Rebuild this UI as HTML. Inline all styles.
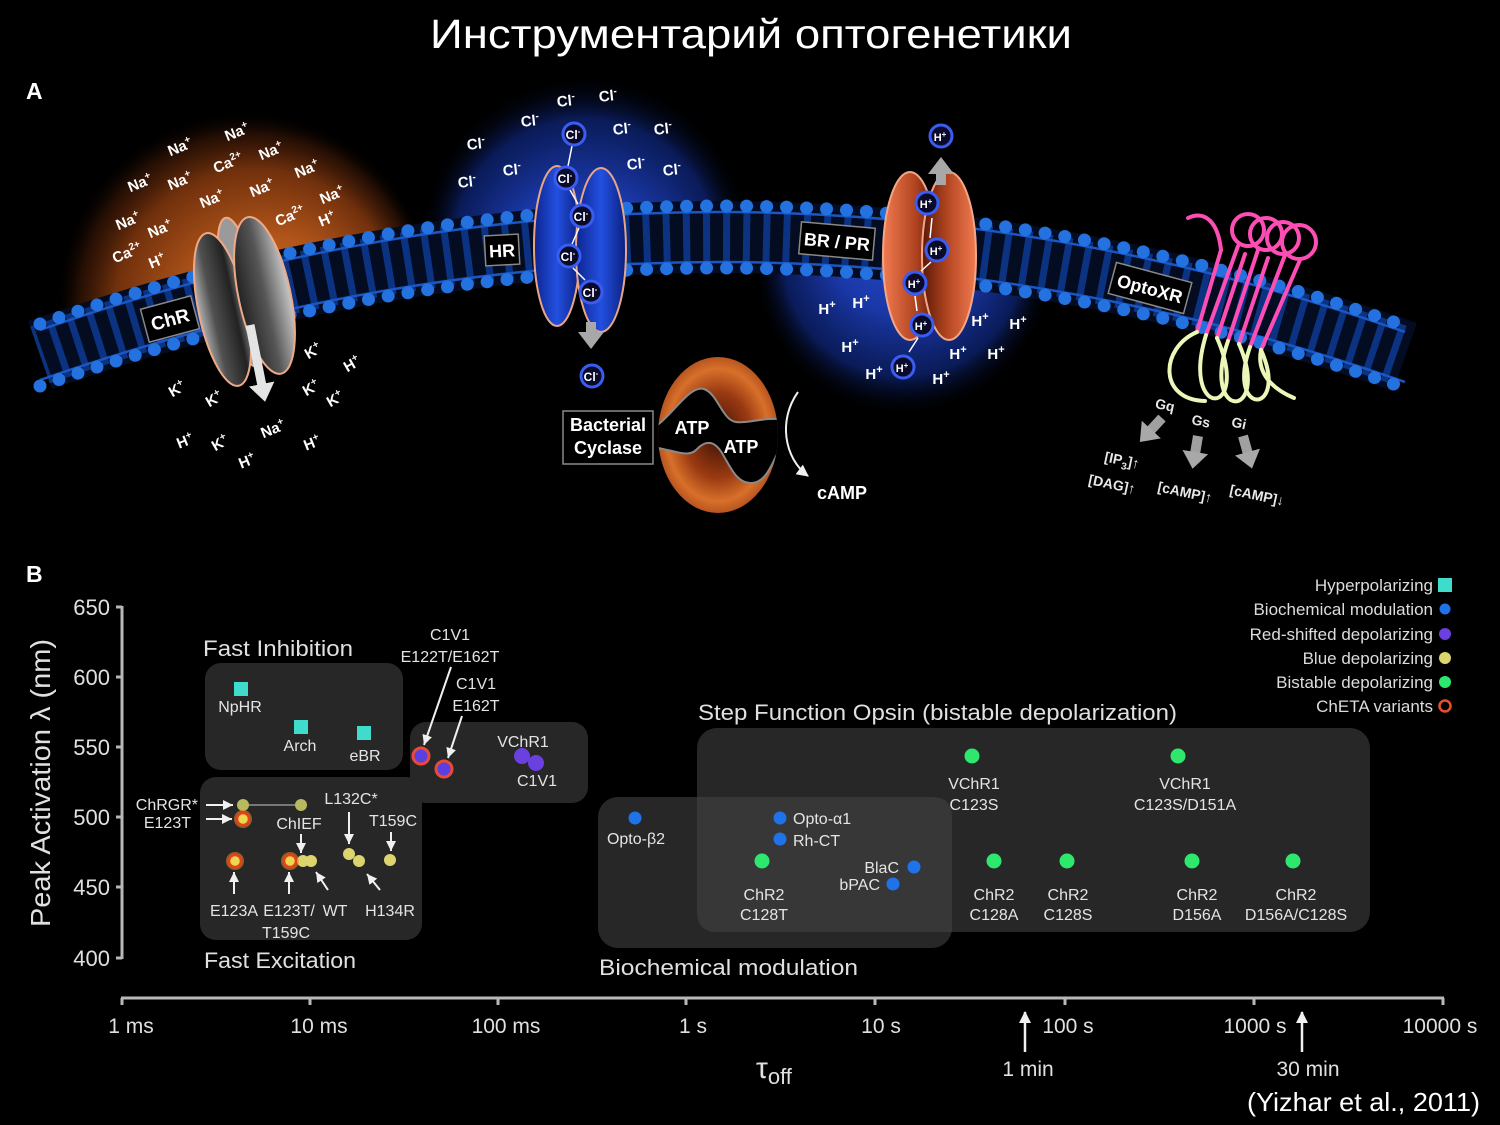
<!DOCTYPE html>
<html><head><meta charset="utf-8"><style>
html,body{margin:0;padding:0;background:#000;}
svg{display:block;}
</style></head><body>
<svg width="1500" height="1125" viewBox="0 0 1500 1125" xmlns="http://www.w3.org/2000/svg" font-family="'Liberation Sans', sans-serif">
<defs>
<radialGradient id="gOG" cx="0.5" cy="0.5" r="0.5" fx="0.62" fy="0.62">
<stop offset="0" stop-color="#e07522"/><stop offset="0.45" stop-color="#b4561a"/><stop offset="0.75" stop-color="#70300c"/><stop offset="0.9" stop-color="#2e1205" stop-opacity="0.8"/><stop offset="1" stop-color="#000" stop-opacity="0"/></radialGradient>
<radialGradient id="gBG" cx="0.5" cy="0.5" r="0.5" fx="0.5" fy="0.7">
<stop offset="0" stop-color="#2a4ed0"/><stop offset="0.5" stop-color="#1a38a8"/><stop offset="0.8" stop-color="#0c2068" stop-opacity="0.85"/><stop offset="1" stop-color="#000" stop-opacity="0"/></radialGradient>
<radialGradient id="gBG2" cx="0.5" cy="0.5" r="0.5" fx="0.5" fy="0.3">
<stop offset="0" stop-color="#2a4ed0"/><stop offset="0.5" stop-color="#1a38a8"/><stop offset="0.8" stop-color="#0c2068" stop-opacity="0.85"/><stop offset="1" stop-color="#000" stop-opacity="0"/></radialGradient>
<clipPath id="above"><path d="M0,0 H1500 V357 L1405,357 Q722,118 40,355 L0,355 Z"/></clipPath>
<clipPath id="below"><path d="M0,1125 H1500 V357 L1405,357 Q722,118 40,355 L0,355 Z"/></clipPath>
<linearGradient id="gGray" x1="0" x2="1" y1="0" y2="0">
<stop offset="0" stop-color="#b0b0b0"/><stop offset="0.3" stop-color="#505050"/><stop offset="0.75" stop-color="#222"/><stop offset="1" stop-color="#8a8a8a"/></linearGradient>
<linearGradient id="gGray2" x1="0" x2="1" y1="0" y2="0">
<stop offset="0" stop-color="#222"/><stop offset="0.5" stop-color="#555"/><stop offset="1" stop-color="#c8c8c8"/></linearGradient>
<linearGradient id="gBlue" x1="0" x2="1" y1="0" y2="0">
<stop offset="0" stop-color="#0d2490"/><stop offset="0.5" stop-color="#2350e0"/><stop offset="1" stop-color="#0b1f80"/></linearGradient>
<linearGradient id="gOrL" x1="0" x2="1" y1="0" y2="0">
<stop offset="0" stop-color="#f27a50"/><stop offset="0.6" stop-color="#b04420"/><stop offset="1" stop-color="#5a1806"/></linearGradient>
<linearGradient id="gOrR" x1="0" x2="1" y1="0" y2="0">
<stop offset="0" stop-color="#5a1806"/><stop offset="0.45" stop-color="#b04420"/><stop offset="1" stop-color="#f27a50"/></linearGradient>
<radialGradient id="gCyc" cx="0.5" cy="0.5" r="0.5">
<stop offset="0" stop-color="#3a1004"/><stop offset="0.55" stop-color="#9a3a12"/><stop offset="0.85" stop-color="#d8702a"/><stop offset="1" stop-color="#b85520"/></radialGradient>
<clipPath id="cyc"><ellipse cx="718" cy="435" rx="60" ry="78"/></clipPath>
<marker id="mW" markerWidth="30" markerHeight="30" refX="2" refY="15" orient="auto" markerUnits="userSpaceOnUse"><path d="M0,2 L18,15 L0,28 Z" fill="#e4e4e4"/></marker>
<marker id="mG" markerWidth="30" markerHeight="30" refX="2" refY="15" orient="auto" markerUnits="userSpaceOnUse"><path d="M0,2 L17,15 L0,28 Z" fill="#a8a8a8"/></marker>
<marker id="mS" markerWidth="12" markerHeight="12" refX="10" refY="5" orient="auto" markerUnits="userSpaceOnUse"><path d="M0,0 L10,5 L0,10 Z" fill="#f0f0f0"/></marker>
<marker id="mC" markerWidth="14" markerHeight="14" refX="11" refY="6" orient="auto" markerUnits="userSpaceOnUse"><path d="M0,0 L12,6 L0,12 Z" fill="#f0f0f0"/></marker>
</defs>
<rect width="1500" height="1125" fill="#000"/>

<!-- Title -->
<text x="430" y="48" font-size="41" fill="#fff" textLength="642" lengthAdjust="spacingAndGlyphs" font-family="'Liberation Sans','DejaVu Sans',sans-serif">Инструментарий оптогенетики</text>
<text x="26" y="99" font-size="23" font-weight="bold" fill="#fff">A</text>
<text x="26" y="582" font-size="23" font-weight="bold" fill="#fff">B</text>

<!-- glows -->
<circle cx="245" cy="300" r="190" fill="url(#gOG)" clip-path="url(#above)"/>
<circle cx="585" cy="238" r="165" fill="url(#gBG)" clip-path="url(#above)"/>
<circle cx="903" cy="268" r="150" fill="url(#gBG2)" clip-path="url(#below)"/>

<!-- membrane -->
<path d="M40,355 Q722,118 1405,357" fill="none" stroke="#040c22" stroke-width="72"/>
<path d="M40,355 Q722,118 1405,357" fill="none" stroke="#0d3b92" stroke-width="60" stroke-dasharray="7 13" stroke-dashoffset="3.5" opacity="0.85"/>
<path d="M40,330 Q722,93 1405,332" fill="none" stroke="#1a56c4" stroke-width="2.5"/>
<path d="M40,380 Q722,143 1405,382" fill="none" stroke="#1a56c4" stroke-width="2.5"/>
<path d="M40,324 Q722,87 1405,326" fill="none" stroke="#2472e0" stroke-width="13" stroke-dasharray="0 20" stroke-linecap="round"/>
<path d="M40,386 Q722,149 1405,388" fill="none" stroke="#2472e0" stroke-width="13" stroke-dasharray="0 20" stroke-linecap="round"/>

<!-- ChR protein -->
<g transform="rotate(-12 243 300)" stroke="#eeaa88" stroke-width="2">
<ellipse cx="243" cy="292" rx="18" ry="76" fill="#9a9a9a"/>
<ellipse cx="221" cy="305" rx="24" ry="78" fill="url(#gGray)"/>
<ellipse cx="265" cy="300" rx="26" ry="80" fill="url(#gGray2)"/>
</g>
<line x1="250" y1="325" x2="262" y2="386" stroke="#e4e4e4" stroke-width="9" marker-end="url(#mW)"/>

<!-- HR protein -->
<g stroke="#e8a684" stroke-width="2">
<ellipse cx="557" cy="246" rx="23" ry="80" fill="url(#gBlue)"/>
<ellipse cx="601" cy="250" rx="25" ry="82" fill="url(#gBlue)"/>
</g>
<line x1="591" y1="322" x2="591" y2="334" stroke="#a8a8a8" stroke-width="10" marker-end="url(#mG)"/>
<g stroke="#fff" stroke-width="1.5" fill="none">
<line x1="572" y1="146" x2="568" y2="166"/><line x1="570" y1="190" x2="578" y2="204"/><line x1="579" y1="228" x2="572" y2="244"/><line x1="573" y1="268" x2="585" y2="280"/>
</g>

<!-- BR/PR protein -->
<g stroke="#f2a888" stroke-width="2">
<ellipse cx="910" cy="256" rx="27" ry="84" fill="url(#gOrL)"/>
<ellipse cx="949" cy="256" rx="27" ry="84" fill="url(#gOrR)"/>
</g>
<line x1="941" y1="185" x2="941" y2="172" stroke="#a8a8a8" stroke-width="10" marker-end="url(#mG)"/>
<g stroke="#fff" stroke-width="1.5" fill="none">
<line x1="930" y1="238" x2="932" y2="218"/><line x1="921" y1="271" x2="931" y2="262"/><line x1="917" y1="311" x2="915" y2="296"/><line x1="909" y1="352" x2="918" y2="338"/>
</g>

<!-- OptoXR -->
<g fill="none" stroke-width="4" stroke-linecap="round">
<g stroke="#ff4db6">
<path d="M1188,218 C1205,210 1218,222 1221,250"/>
<line x1="1221" y1="250" x2="1197" y2="332"/>
<line x1="1238" y1="246" x2="1206" y2="335"/>
<line x1="1245" y1="254" x2="1217" y2="338"/>
<line x1="1258" y1="250" x2="1228" y2="341"/>
<line x1="1268" y1="258" x2="1239" y2="344"/>
<line x1="1285" y1="255" x2="1250" y2="347"/>
<line x1="1300" y1="260" x2="1261" y2="350"/>
<circle cx="1248" cy="230" r="16"/>
<circle cx="1266" cy="234" r="16"/>
<circle cx="1283" cy="238" r="16"/>
<circle cx="1299" cy="242" r="17"/>
</g>
<g stroke="#eaf7b8">
<path d="M1197,332 C1160,348 1158,400 1205,401"/>
<path d="M1206,335 C1180,420 1252,418 1217,338"/>
<path d="M1228,341 C1200,422 1272,420 1239,344"/>
<path d="M1250,347 C1225,418 1290,415 1261,350"/>
<path d="M1261,350 C1256,375 1275,390 1294,398"/>
</g>
</g>

<!-- Bacterial cyclase -->
<ellipse cx="718" cy="435" rx="60" ry="78" fill="url(#gCyc)"/>
<path clip-path="url(#cyc)" d="M650,430 C672,418 688,385 704,389 C718,394 722,420 736,422 C750,424 762,416 790,420 L790,436 C776,444 772,482 752,483 C737,484 731,468 722,453 C714,440 705,440 696,450 C687,459 670,448 650,447 Z" fill="#000" stroke="#8a8a8a" stroke-width="2"/>
<text x="692" y="434" font-size="18" font-weight="bold" fill="#fff" text-anchor="middle">ATP</text>
<text x="741" y="453" font-size="18" font-weight="bold" fill="#fff" text-anchor="middle">ATP</text>
<path d="M798,392 C778,420 784,458 808,476" fill="none" stroke="#f0f0f0" stroke-width="2" marker-end="url(#mC)"/>
<text x="842" y="499" font-size="18" font-weight="bold" fill="#fff" text-anchor="middle">cAMP</text>
<rect x="563" y="411" width="90" height="53" fill="#000" stroke="#8a8a8a" stroke-width="1.5"/>
<text x="608" y="431" font-size="18" font-weight="bold" fill="#fff" text-anchor="middle">Bacterial</text>
<text x="608" y="454" font-size="18" font-weight="bold" fill="#fff" text-anchor="middle">Cyclase</text>

<!-- protein labels -->
<g transform="translate(170,319) rotate(-15)"><rect x="-26" y="-17" width="52" height="34" fill="#000" stroke="#888" stroke-width="1.5"/><text y="7" font-size="19" font-weight="bold" fill="#fff" text-anchor="middle">ChR</text></g>
<g transform="translate(502,250) rotate(-3)"><rect x="-17" y="-15" width="34" height="30" fill="#000" stroke="#888" stroke-width="1.5"/><text y="7" font-size="18" font-weight="bold" fill="#fff" text-anchor="middle">HR</text></g>
<g transform="translate(837,241) rotate(5)"><rect x="-37" y="-16" width="74" height="32" fill="#000" stroke="#888" stroke-width="1.5"/><text y="7" font-size="18" font-weight="bold" fill="#fff" text-anchor="middle">BR / PR</text></g>
<g transform="translate(1150,288) rotate(15)"><rect x="-39" y="-16" width="78" height="32" fill="#000" stroke="#888" stroke-width="1.5"/><text y="7" font-size="18" font-weight="bold" fill="#fff" text-anchor="middle">OptoXR</text></g>

<!-- ChR ions -->
<g font-size="15" font-weight="bold" fill="#fff" text-anchor="middle">
<text transform="translate(180,147) rotate(-22)" y="5">Na<tspan font-size="10" dy="-6">+</tspan></text>
<text transform="translate(237,132) rotate(-22)" y="5">Na<tspan font-size="10" dy="-6">+</tspan></text>
<text transform="translate(228,163) rotate(-22)" y="5">Ca<tspan font-size="10" dy="-6">2+</tspan></text>
<text transform="translate(271,151) rotate(-22)" y="5">Na<tspan font-size="10" dy="-6">+</tspan></text>
<text transform="translate(140,183) rotate(-22)" y="5">Na<tspan font-size="10" dy="-6">+</tspan></text>
<text transform="translate(180,181) rotate(-22)" y="5">Na<tspan font-size="10" dy="-6">+</tspan></text>
<text transform="translate(212,199) rotate(-22)" y="5">Na<tspan font-size="10" dy="-6">+</tspan></text>
<text transform="translate(262,188) rotate(-22)" y="5">Na<tspan font-size="10" dy="-6">+</tspan></text>
<text transform="translate(307,169) rotate(-22)" y="5">Na<tspan font-size="10" dy="-6">+</tspan></text>
<text transform="translate(128,221) rotate(-22)" y="5">Na<tspan font-size="10" dy="-6">+</tspan></text>
<text transform="translate(160,229) rotate(-22)" y="5">Na<tspan font-size="10" dy="-6">+</tspan></text>
<text transform="translate(127,253) rotate(-22)" y="5">Ca<tspan font-size="10" dy="-6">2+</tspan></text>
<text transform="translate(157,261) rotate(-22)" y="5">H<tspan font-size="10" dy="-6">+</tspan></text>
<text transform="translate(290,216) rotate(-22)" y="5">Ca<tspan font-size="10" dy="-6">2+</tspan></text>
<text transform="translate(332,195) rotate(-22)" y="5">Na<tspan font-size="10" dy="-6">+</tspan></text>
<text transform="translate(327,219) rotate(-22)" y="5">H<tspan font-size="10" dy="-6">+</tspan></text>
<text transform="translate(177,389) rotate(-30)" y="5">K<tspan font-size="10" dy="-6">+</tspan></text>
<text transform="translate(214,399) rotate(-30)" y="5">K<tspan font-size="10" dy="-6">+</tspan></text>
<text transform="translate(313,351) rotate(-30)" y="5">K<tspan font-size="10" dy="-6">+</tspan></text>
<text transform="translate(352,364) rotate(-30)" y="5">H<tspan font-size="10" dy="-6">+</tspan></text>
<text transform="translate(311,388) rotate(-30)" y="5">K<tspan font-size="10" dy="-6">+</tspan></text>
<text transform="translate(335,399) rotate(-30)" y="5">K<tspan font-size="10" dy="-6">+</tspan></text>
<text transform="translate(185,441) rotate(-22)" y="5">H<tspan font-size="10" dy="-6">+</tspan></text>
<text transform="translate(220,443) rotate(-30)" y="5">K<tspan font-size="10" dy="-6">+</tspan></text>
<text transform="translate(273,429) rotate(-22)" y="5">Na<tspan font-size="10" dy="-6">+</tspan></text>
<text transform="translate(312,443) rotate(-22)" y="5">H<tspan font-size="10" dy="-6">+</tspan></text>
<text transform="translate(247,461) rotate(-22)" y="5">H<tspan font-size="10" dy="-6">+</tspan></text>
</g>

<!-- HR Cl ions -->
<g font-size="15" font-weight="bold" fill="#fff" text-anchor="middle">
<text transform="translate(566,101) rotate(-6)" y="5">Cl<tspan font-size="10" dy="-6">-</tspan></text>
<text transform="translate(608,96) rotate(-6)" y="5">Cl<tspan font-size="10" dy="-6">-</tspan></text>
<text transform="translate(530,121) rotate(-6)" y="5">Cl<tspan font-size="10" dy="-6">-</tspan></text>
<text transform="translate(622,129) rotate(-6)" y="5">Cl<tspan font-size="10" dy="-6">-</tspan></text>
<text transform="translate(663,129) rotate(-6)" y="5">Cl<tspan font-size="10" dy="-6">-</tspan></text>
<text transform="translate(476,144) rotate(-6)" y="5">Cl<tspan font-size="10" dy="-6">-</tspan></text>
<text transform="translate(512,170) rotate(-6)" y="5">Cl<tspan font-size="10" dy="-6">-</tspan></text>
<text transform="translate(636,164) rotate(-6)" y="5">Cl<tspan font-size="10" dy="-6">-</tspan></text>
<text transform="translate(672,170) rotate(-6)" y="5">Cl<tspan font-size="10" dy="-6">-</tspan></text>
<text transform="translate(467,182) rotate(-6)" y="5">Cl<tspan font-size="10" dy="-6">-</tspan></text>
</g>
<g fill="#0a0a2a" stroke="#3a5cf0" stroke-width="3">
<circle cx="574" cy="134" r="11"/><circle cx="566" cy="178" r="11"/><circle cx="582" cy="216" r="11"/><circle cx="569" cy="256" r="11"/><circle cx="591" cy="292" r="11"/><circle cx="592" cy="376" r="11"/>
<circle cx="941" cy="136" r="11"/><circle cx="927" cy="203" r="11"/><circle cx="937" cy="250" r="11"/><circle cx="915" cy="283" r="11"/><circle cx="922" cy="325" r="11"/><circle cx="903" cy="367" r="11"/>
</g>
<g font-size="12" font-weight="bold" fill="#fff" text-anchor="middle">
<text x="573" y="139">Cl<tspan font-size="8" dy="-5">-</tspan></text>
<text x="565" y="183">Cl<tspan font-size="8" dy="-5">-</tspan></text>
<text x="581" y="221">Cl<tspan font-size="8" dy="-5">-</tspan></text>
<text x="568" y="261">Cl<tspan font-size="8" dy="-5">-</tspan></text>
<text x="590" y="297">Cl<tspan font-size="8" dy="-5">-</tspan></text>
<text x="591" y="381">Cl<tspan font-size="8" dy="-5">-</tspan></text>
<text x="940" y="141" font-size="11">H<tspan font-size="8" dy="-4">+</tspan></text>
<text x="926" y="208" font-size="11">H<tspan font-size="8" dy="-4">+</tspan></text>
<text x="936" y="255" font-size="11">H<tspan font-size="8" dy="-4">+</tspan></text>
<text x="914" y="288" font-size="11">H<tspan font-size="8" dy="-4">+</tspan></text>
<text x="921" y="330" font-size="11">H<tspan font-size="8" dy="-4">+</tspan></text>
<text x="902" y="372" font-size="11">H<tspan font-size="8" dy="-4">+</tspan></text>
</g>
<!-- BR plain H+ -->
<g font-size="15" font-weight="bold" fill="#fff" text-anchor="middle">
<text x="827" y="314">H<tspan font-size="11" dy="-6">+</tspan></text>
<text x="861" y="308">H<tspan font-size="11" dy="-6">+</tspan></text>
<text x="850" y="352">H<tspan font-size="11" dy="-6">+</tspan></text>
<text x="874" y="379">H<tspan font-size="11" dy="-6">+</tspan></text>
<text x="980" y="326">H<tspan font-size="11" dy="-6">+</tspan></text>
<text x="1018" y="329">H<tspan font-size="11" dy="-6">+</tspan></text>
<text x="958" y="359">H<tspan font-size="11" dy="-6">+</tspan></text>
<text x="996" y="359">H<tspan font-size="11" dy="-6">+</tspan></text>
<text x="941" y="384">H<tspan font-size="11" dy="-6">+</tspan></text>
</g>

<!-- G protein arrows & labels -->
<line x1="1162" y1="418" x2="1150" y2="431" stroke="#a0a0a0" stroke-width="10" marker-end="url(#mG)"/>
<line x1="1198" y1="436" x2="1195" y2="454" stroke="#a0a0a0" stroke-width="10" marker-end="url(#mG)"/>
<line x1="1243" y1="436" x2="1248" y2="454" stroke="#a0a0a0" stroke-width="10" marker-end="url(#mG)"/>
<g font-size="14" font-weight="bold" fill="#e8e8e8" text-anchor="middle">
<text transform="translate(1165,405) rotate(12)" y="5">Gq</text>
<text transform="translate(1201,421) rotate(12)" y="5">Gs</text>
<text transform="translate(1239,423) rotate(12)" y="5">Gi</text>
<text transform="translate(1122,460) rotate(12)" y="5">[IP<tspan font-size="10" dy="4">3</tspan><tspan dy="-4">]↑</tspan></text>
<text transform="translate(1112,484) rotate(12)" y="5">[DAG]↑</text>
<text transform="translate(1185,492) rotate(12)" y="5">[cAMP]↑</text>
<text transform="translate(1257,495) rotate(12)" y="5">[cAMP]↓</text>
</g>

<!-- ============ PART B ============ -->
<g fill="#272727">
<rect x="205" y="663" width="198" height="107" rx="16"/>
<rect x="200" y="777" width="222" height="163" rx="16"/>
<rect x="410" y="722" width="178" height="81" rx="16"/>
<rect x="598" y="797" width="354" height="151" rx="20"/>
<rect x="697" y="728" width="673" height="204" rx="20"/>
</g>
<path d="M697,797 L932,797 Q952,797 952,817 L952,932 L717,932 Q697,932 697,912 Z" fill="#373737"/>

<!-- axes -->
<g stroke="#b8b8b8" stroke-width="3" fill="none">
<line x1="122" y1="606" x2="122" y2="959"/>
<line x1="116" y1="607" x2="122" y2="607"/><line x1="116" y1="677" x2="122" y2="677"/><line x1="116" y1="747" x2="122" y2="747"/><line x1="116" y1="817" x2="122" y2="817"/><line x1="116" y1="887" x2="122" y2="887"/><line x1="116" y1="958" x2="122" y2="958"/>
<line x1="121" y1="998" x2="1444" y2="998"/>
<line x1="122" y1="998" x2="122" y2="1005"/><line x1="310" y1="998" x2="310" y2="1005"/><line x1="498" y1="998" x2="498" y2="1005"/><line x1="686" y1="998" x2="686" y2="1005"/><line x1="875" y1="998" x2="875" y2="1005"/><line x1="1065" y1="998" x2="1065" y2="1005"/><line x1="1254" y1="998" x2="1254" y2="1005"/><line x1="1443" y1="998" x2="1443" y2="1005"/>
</g>
<g font-size="22" fill="#e0e0e0" text-anchor="end">
<text x="110" y="615">650</text><text x="110" y="685">600</text><text x="110" y="755">550</text><text x="110" y="825">500</text><text x="110" y="895">450</text><text x="110" y="966">400</text>
</g>
<text transform="translate(50,783) rotate(-90)" font-size="28" fill="#e0e0e0" text-anchor="middle" textLength="288" lengthAdjust="spacingAndGlyphs">Peak Activation λ (nm)</text>
<g font-size="21" fill="#e0e0e0" text-anchor="middle">
<text x="131" y="1033">1 ms</text><text x="319" y="1033">10 ms</text><text x="506" y="1033">100 ms</text><text x="693" y="1033">1 s</text><text x="881" y="1033">10 s</text><text x="1068" y="1033">100 s</text><text x="1255" y="1033">1000 s</text><text x="1440" y="1033">10000 s</text>
<text x="1028" y="1076">1 min</text><text x="1308" y="1076">30 min</text>
</g>
<text x="756" y="1078" font-size="30" fill="#e0e0e0">τ<tspan font-size="22" dy="6">off</tspan></text>
<line x1="1025" y1="1052" x2="1025" y2="1012" stroke="#f0f0f0" stroke-width="2.5" marker-end="url(#mC)"/>
<line x1="1302" y1="1052" x2="1302" y2="1012" stroke="#f0f0f0" stroke-width="2.5" marker-end="url(#mC)"/>
<text x="1247" y="1111" font-size="26" fill="#fff" textLength="233" lengthAdjust="spacingAndGlyphs">(Yizhar et al., 2011)</text>

<!-- group titles -->
<g font-size="22" fill="#e0e0e0">
<text x="203" y="656" textLength="150" lengthAdjust="spacingAndGlyphs">Fast Inhibition</text>
<text x="204" y="968" textLength="152" lengthAdjust="spacingAndGlyphs">Fast Excitation</text>
<text x="698" y="720" textLength="479" lengthAdjust="spacingAndGlyphs">Step Function Opsin (bistable depolarization)</text>
<text x="599" y="975" textLength="259" lengthAdjust="spacingAndGlyphs">Biochemical modulation</text>
</g>

<!-- point labels -->
<g font-size="16" fill="#e4e4e4" text-anchor="middle">
<text x="240" y="712">NpHR</text>
<text x="300" y="751">Arch</text>
<text x="365" y="761">eBR</text>
<text x="450" y="640">C1V1</text>
<text x="450" y="662">E122T/E162T</text>
<text x="476" y="689">C1V1</text>
<text x="476" y="711">E162T</text>
<text x="523" y="747">VChR1</text>
<text x="537" y="786">C1V1</text>
<text x="299" y="829">ChIEF</text>
<text x="351" y="804">L132C*</text>
<text x="393" y="826">T159C</text>
<text x="234" y="916">E123A</text>
<text x="289" y="916">E123T/</text>
<text x="286" y="938">T159C</text>
<text x="335" y="916">WT</text>
<text x="390" y="916">H134R</text>
<text x="636" y="844">Opto-β2</text>
<text x="974" y="789">VChR1</text>
<text x="974" y="810">C123S</text>
<text x="1185" y="789">VChR1</text>
<text x="1185" y="810">C123S/D151A</text>
<text x="764" y="900">ChR2</text><text x="764" y="920">C128T</text>
<text x="994" y="900">ChR2</text><text x="994" y="920">C128A</text>
<text x="1068" y="900">ChR2</text><text x="1068" y="920">C128S</text>
<text x="1197" y="900">ChR2</text><text x="1197" y="920">D156A</text>
<text x="1296" y="900">ChR2</text><text x="1296" y="920">D156A/C128S</text>
</g>
<g font-size="16" fill="#e4e4e4" text-anchor="end">
<text x="198" y="810">ChRGR*</text>
<text x="191" y="828">E123T</text>
<text x="899" y="873">BlaC</text>
<text x="880" y="890">bPAC</text>
</g>
<g font-size="16" fill="#e4e4e4">
<text x="793" y="824">Opto-α1</text>
<text x="793" y="846">Rh-CT</text>
</g>

<!-- arrows in chart -->
<g stroke="#f0f0f0" stroke-width="2" fill="none" marker-end="url(#mS)">
<line x1="451" y1="667" x2="424" y2="745"/>
<line x1="462" y1="716" x2="448" y2="758"/>
<line x1="206" y1="805" x2="233" y2="805"/>
<line x1="206" y1="819" x2="232" y2="819"/>
<line x1="301" y1="834" x2="301" y2="853"/>
<line x1="349" y1="812" x2="349" y2="844"/>
<line x1="391" y1="832" x2="391" y2="851"/>
<line x1="234" y1="894" x2="234" y2="872"/>
<line x1="289" y1="894" x2="289" y2="872"/>
<line x1="328" y1="890" x2="316" y2="872"/>
<line x1="380" y1="890" x2="367" y2="874"/>
</g>

<!-- data points -->
<g fill="#3fdccb">
<rect x="234" y="682" width="14" height="14"/>
<rect x="294" y="720" width="14" height="14"/>
<rect x="357" y="726" width="14" height="14"/>
</g>
<line x1="243" y1="805" x2="301" y2="805" stroke="#777" stroke-width="2"/>
<g fill="#b8b860">
<circle cx="243" cy="805" r="6"/><circle cx="301" cy="805" r="6"/>
</g>
<g fill="#dcd46e">
<circle cx="303" cy="861" r="6"/><circle cx="311" cy="861" r="6"/>
<circle cx="349" cy="854" r="6"/><circle cx="359" cy="861" r="6"/>
<circle cx="390" cy="860" r="6"/>
</g>
<g>
<circle cx="243" cy="819" r="9" fill="#f08a20" opacity="0.55"/>
<circle cx="235" cy="861" r="9" fill="#f08a20" opacity="0.55"/>
<circle cx="290" cy="861" r="9" fill="#f08a20" opacity="0.55"/>
<g fill="#ecd850" stroke="#e8401c" stroke-width="2.5">
<circle cx="243" cy="819" r="6"/><circle cx="235" cy="861" r="6"/><circle cx="290" cy="861" r="6"/>
</g>
</g>
<g fill="#5b3fe0" stroke="#e84a3a" stroke-width="3">
<circle cx="421" cy="756" r="8"/><circle cx="444" cy="769" r="8"/>
</g>
<g fill="#6a40e0">
<circle cx="522" cy="756" r="8"/><circle cx="536" cy="763" r="8"/>
</g>
<g fill="#1f72e8">
<circle cx="635" cy="818" r="6.5"/><circle cx="780" cy="818" r="6.5"/><circle cx="780" cy="839" r="6.5"/><circle cx="914" cy="867" r="6.5"/><circle cx="893" cy="884" r="6.5"/>
</g>
<g fill="#2ee86e">
<circle cx="762" cy="861" r="7.5"/><circle cx="972" cy="756" r="7.5"/><circle cx="1178" cy="756" r="7.5"/><circle cx="994" cy="861" r="7.5"/><circle cx="1067" cy="861" r="7.5"/><circle cx="1192" cy="861" r="7.5"/><circle cx="1293" cy="861" r="7.5"/>
</g>

<!-- legend -->
<g font-size="17" fill="#dcdcdc" text-anchor="end">
<text x="1433" y="591">Hyperpolarizing</text>
<text x="1433" y="615">Biochemical modulation</text>
<text x="1433" y="640">Red-shifted depolarizing</text>
<text x="1433" y="664">Blue depolarizing</text>
<text x="1433" y="688">Bistable depolarizing</text>
<text x="1433" y="712">ChETA variants</text>
</g>
<rect x="1438" y="578" width="14" height="14" fill="#3fdccb"/>
<circle cx="1445" cy="609" r="5.5" fill="#1f72e8"/>
<circle cx="1445" cy="634" r="6" fill="#6a40e0"/>
<circle cx="1445" cy="658" r="6" fill="#dcd46e"/>
<circle cx="1445" cy="682" r="6" fill="#2ee86e"/>
<circle cx="1445" cy="706" r="5.5" fill="none" stroke="#e8502a" stroke-width="2.5"/>
</svg>
</body></html>
